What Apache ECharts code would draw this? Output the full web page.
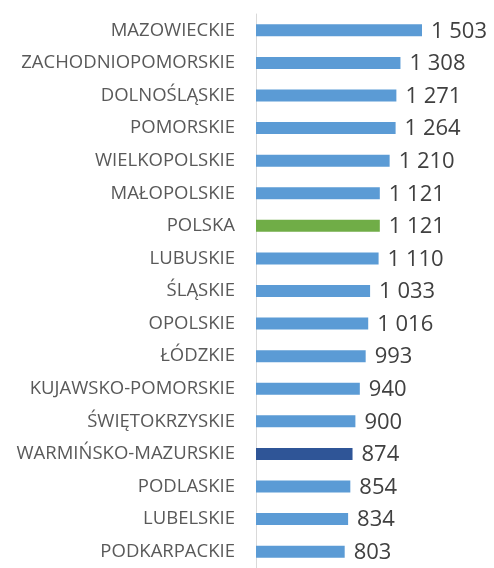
<!DOCTYPE html>
<html>
<head>
<meta charset="utf-8">
<script src="https://cdn.jsdelivr.net/npm/echarts@6/dist/echarts.min.js"></script>
<style>
  html, body { margin: 0; padding: 0; background: #fff; }
  #chart { width: 494px; height: 568px; }
</style>
</head>
<body>
<div id="chart"></div>
<script>
const regions = [
  'MAZOWIECKIE', 'ZACHODNIOPOMORSKIE', 'DOLNOŚLĄSKIE', 'POMORSKIE', 'WIELKOPOLSKIE',
  'MAŁOPOLSKIE', 'POLSKA', 'LUBUSKIE', 'ŚLĄSKIE', 'OPOLSKIE', 'ŁÓDZKIE',
  'KUJAWSKO-POMORSKIE', 'ŚWIĘTOKRZYSKIE', 'WARMIŃSKO-MAZURSKIE', 'PODLASKIE',
  'LUBELSKIE', 'PODKARPACKIE'
]
const values = [1503, 1308, 1271, 1264, 1210, 1121, 1121, 1110, 1033, 1016, 993, 940, 900, 874, 854, 834, 803]

// wyróżnione słupki
const highlight = { 'POLSKA': '#70ad47', 'WARMIŃSKO-MAZURSKIE': '#2f5597' }

// 1503 -> "1 503"
const fmt = (v) => String(v).replace(/\B(?=(\d{3})+(?!\d))/g, ' ')

const chart = echarts.init(document.getElementById('chart'))

chart.setOption({
  animation: false,
  grid: { left: 256, right: 72, top: 14, height: 561 },
  xAxis: {
    type: 'value',
    min: 0,
    max: 1503,
    show: false
  },
  yAxis: {
    type: 'category',
    inverse: true,
    data: regions,
    axisLine: { show: true, lineStyle: { color: '#d9d9d9', width: 1 } },
    axisTick: { show: false },
    axisLabel: {
      margin: 21,
      fontSize: 18.5,
      fontFamily: 'Open Sans',
      color: '#595959'
    }
  },
  series: [
    {
      type: 'bar',
      barWidth: 12,
      data: values.map((v, i) => ({
        value: v,
        itemStyle: { color: highlight[regions[i]] || '#5b9bd5' }
      })),
      label: {
        show: true,
        position: 'right',
        distance: 9,
        offset: [0, 1],
        fontSize: 22,
        fontFamily: 'Open Sans',
        color: '#404040',
        formatter: (p) => fmt(p.value)
      }
    }
  ]
})
</script>
</body>
</html>
